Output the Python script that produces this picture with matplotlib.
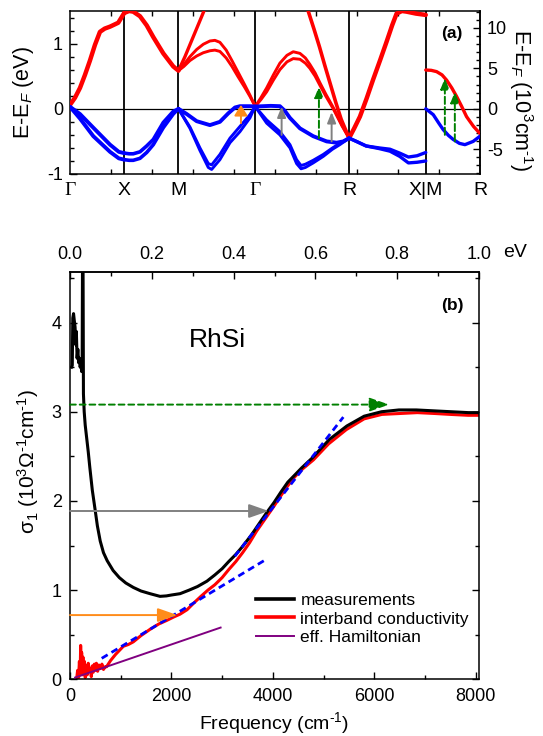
import matplotlib.pyplot as plt
import matplotlib.transforms as mtransforms
from matplotlib.lines import Line2D
from matplotlib.ticker import MultipleLocator, FixedLocator, FormatStrFormatter, NullFormatter

plt.rcParams['font.family'] = ['Liberation Sans', 'DejaVu Sans']
plt.rcParams['mathtext.fontset'] = 'custom'
plt.rcParams['mathtext.rm'] = 'Liberation Sans'
plt.rcParams['mathtext.it'] = 'Liberation Sans:italic'
plt.rcParams['mathtext.bf'] = 'Liberation Sans:bold'
plt.rcParams['axes.unicode_minus'] = False
plt.rcParams['xtick.direction'] = 'in'
plt.rcParams['ytick.direction'] = 'in'
plt.rcParams['axes.linewidth'] = 1.1

EV_TO_KCM = 8.06554   # 1 eV in 10^3 cm^-1
EV_TO_CM = 8065.54    # 1 eV in cm^-1

# ---------- (a) band structure along the k path ----------
sym_k = [0.0, 0.5, 1.0, 1.707, 2.573, 3.280, 3.780]
sym_labels = ['Γ', 'X', 'M', 'Γ', 'R', 'X|M', 'R']

# Gamma - X
gx_k_cb = [0, 0.046, 0.092, 0.138, 0.184, 0.23, 0.276, 0.32, 0.369, 0.445, 0.5]
gx_cb = [0.06, 0.17, 0.32, 0.52, 0.74, 0.98, 1.18, 1.23, 1.26, 1.32, 1.47]
gx_k_vb = [0, 0.092, 0.215, 0.369, 0.45, 0.5]
gx_vb1 = [0.03, -0.08, -0.29, -0.55, -0.66, -0.68]
gx_vb2 = [0.03, -0.15, -0.42, -0.66, -0.76, -0.78]

# X - M
xm_k = [0.5, 0.545, 0.583, 0.645, 0.707, 0.768, 0.86, 0.952, 1.0]
xm_cb = [1.47, 1.50, 1.49, 1.42, 1.28, 1.10, 0.85, 0.65, 0.585]
xm_vb1 = [-0.68, -0.69, -0.69, -0.66, -0.57, -0.47, -0.21, -0.04, 0.0]
xm_vb2 = [-0.78, -0.79, -0.79, -0.76, -0.67, -0.55, -0.29, -0.08, 0.0]

# M - Gamma
mg_k_steep = [1.0, 1.06, 1.12, 1.18, 1.235, 1.26]
mg_cb_steep = [0.585, 0.80, 1.04, 1.28, 1.50, 1.60]
mg_k = [1.0, 1.05, 1.106, 1.168, 1.229, 1.29, 1.336, 1.382, 1.44, 1.493, 1.55, 1.61, 1.659, 1.707]
mg_cb1 = [0.585, 0.68, 0.80, 0.91, 0.99, 1.04, 1.05, 1.02, 0.90, 0.74, 0.56, 0.37, 0.21, 0.04]
mg_cb2 = [0.585, 0.65, 0.74, 0.81, 0.86, 0.89, 0.90, 0.88, 0.78, 0.65, 0.49, 0.33, 0.19, 0.04]
mg_k_vb = [1.0, 1.076, 1.168, 1.29, 1.382, 1.459, 1.521, 1.567, 1.659, 1.707]
mg_vb_flat = [0.0, -0.08, -0.19, -0.25, -0.20, -0.07, 0.02, 0.04, 0.04, 0.035]
mg_k_deep = [1.0, 1.106, 1.198, 1.275, 1.306, 1.382, 1.475, 1.567, 1.659, 1.707]
mg_vb1 = [0.0, -0.28, -0.60, -0.84, -0.86, -0.70, -0.45, -0.27, -0.09, 0.035]
mg_vb2 = [0.0, -0.30, -0.64, -0.90, -0.93, -0.78, -0.52, -0.35, -0.14, 0.035]

# Gamma - R
gr_k = [1.707, 1.76, 1.813, 1.875, 1.935, 2.0, 2.058, 2.12, 2.17, 2.212, 2.26, 2.304, 2.36, 2.427, 2.507, 2.573]
gr_cb1 = [0.035, 0.17, 0.32, 0.52, 0.70, 0.82, 0.875, 0.85, 0.78, 0.68, 0.55, 0.40, 0.22, 0.02, -0.25, -0.45]
gr_cb2 = [0.035, 0.14, 0.26, 0.44, 0.60, 0.72, 0.77, 0.76, 0.70, 0.62, 0.50, 0.36, 0.19, 0.0, -0.26, -0.45]
gr_k_steep = [2.18, 2.196, 2.25, 2.30, 2.35, 2.40, 2.45, 2.50, 2.573]
gr_cb_steep = [1.6, 1.5, 1.22, 0.95, 0.66, 0.38, 0.10, -0.16, -0.45]
gr_k_vb = [1.707, 1.85, 1.935, 1.98, 2.028, 2.12, 2.242, 2.366, 2.458, 2.52, 2.573]
gr_vb_flat = [0.035, 0.045, 0.04, -0.03, -0.14, -0.30, -0.42, -0.50, -0.52, -0.50, -0.45]
gr_k_deep = [1.707, 1.813, 1.935, 2.028, 2.089, 2.13, 2.17, 2.242, 2.335, 2.42, 2.488, 2.573]
gr_vb1 = [0.035, -0.17, -0.35, -0.55, -0.78, -0.87, -0.85, -0.79, -0.70, -0.60, -0.53, -0.45]
gr_vb2 = [0.035, -0.22, -0.40, -0.60, -0.84, -0.92, -0.90, -0.83, -0.73, -0.62, -0.55, -0.45]

# R - X
rx_k = [2.573, 2.62, 2.673, 2.735, 2.795, 2.86, 2.919, 2.97, 3.011, 3.06, 3.103, 3.19, 3.28]
rx_cb = [-0.45, -0.30, -0.12, 0.16, 0.45, 0.75, 1.03, 1.28, 1.46, 1.50, 1.49, 1.46, 1.44]
rx_k_vb = [2.573, 2.64, 2.73, 2.85, 2.95, 3.04, 3.12, 3.20, 3.28]
rx_vb1 = [-0.45, -0.50, -0.57, -0.60, -0.62, -0.68, -0.74, -0.72, -0.67]
rx_vb2 = [-0.45, -0.50, -0.57, -0.61, -0.65, -0.73, -0.83, -0.82, -0.80]

# M - R
mr_k_cb = [3.28, 3.33, 3.38, 3.43, 3.472, 3.52, 3.564, 3.61, 3.656, 3.72, 3.78]
mr_cb = [0.595, 0.59, 0.57, 0.52, 0.44, 0.32, 0.19, 0.04, -0.12, -0.27, -0.38]
mr_k_vb = [3.28, 3.349, 3.40, 3.441, 3.49, 3.533, 3.59, 3.641, 3.717, 3.78]
mr_vb = [0.0, -0.09, -0.22, -0.32, -0.41, -0.47, -0.53, -0.55, -0.50, -0.42]

# optical transitions marked in (a)
trans_k = [1.576, 1.951, 2.412, 2.295, 3.456, 3.548]
trans_lo = [-0.22, -0.40, -0.50, -0.45, -0.40, -0.50]
trans_hi = [0.06, 0.035, -0.05, 0.34, 0.47, 0.26]
trans_kind = ['orange', 'gray', 'gray', 'green', 'green', 'green']

# ---------- (b) optical conductivity ----------
meas_x = [30, 45, 55, 70, 85, 100, 115, 125, 140, 155, 170, 185, 200, 215, 230, 240, 248, 256,
          265, 280, 300, 330, 360, 390, 440, 493, 540, 596, 660, 733, 850, 973, 1100, 1249,
          1400, 1578, 1775, 1900, 2000, 2171, 2350, 2514, 2700, 2856, 3000, 3130, 3270, 3404,
          3580, 3747, 3880, 4021, 4160, 4295, 4432, 4568, 4774, 5116, 5459, 5801, 6144, 6486,
          6829, 7171, 7514, 7856, 8065]
meas_y = [3.50, 3.52, 4.05, 4.10, 4.02, 3.95, 3.75, 3.90, 3.60, 3.70, 3.55, 3.60, 3.50, 3.55,
          3.45, 3.60, 4.90, 4.90, 3.20, 3.00, 2.85, 2.70, 2.55, 2.38, 2.12, 1.91, 1.72, 1.55,
          1.42, 1.33, 1.22, 1.14, 1.08, 1.03, 0.99, 0.96, 0.93, 0.935, 0.945, 0.96, 1.0, 1.04,
          1.10, 1.17, 1.24, 1.32, 1.40, 1.49, 1.62, 1.76, 1.87, 1.98, 2.10, 2.21, 2.29, 2.37,
          2.48, 2.69, 2.84, 2.95, 3.00, 3.02, 3.02, 3.01, 3.00, 2.99, 2.99]

inter_x = [130, 150, 170, 185, 200, 210, 220, 230, 240, 255, 270, 285, 300, 320, 340, 360, 380,
           400, 420, 440, 460, 480, 500, 520, 545, 570, 600, 630, 660, 690, 720, 800, 900, 1052,
           1150, 1249, 1400, 1578, 1750, 1907, 2050, 2169, 2308, 2450, 2582, 2720, 2856, 3000,
           3130, 3270, 3404, 3540, 3678, 3850, 4021, 4160, 4295, 4432, 4568, 4800, 5100, 5450,
           5800, 6150, 6500, 6850, 7200, 7500, 7850, 8065]
inter_y = [0.0, 0.10, 0.02, 0.20, 0.05, 0.38, 0.15, 0.30, 0.05, 0.25, 0.08, 0.20, 0.02, 0.15,
           0.05, 0.18, 0.10, 0.12, 0.03, 0.15, 0.08, 0.17, 0.10, 0.18, 0.09, 0.16, 0.12, 0.17,
           0.11, 0.14, 0.14, 0.21, 0.28, 0.37, 0.39, 0.42, 0.49, 0.56, 0.62, 0.66, 0.70, 0.73,
           0.78, 0.86, 0.93, 1.00, 1.06, 1.14, 1.23, 1.32, 1.42, 1.53, 1.66, 1.80, 1.94, 2.06,
           2.17, 2.27, 2.35, 2.46, 2.64, 2.80, 2.92, 2.97, 2.98, 2.99, 2.98, 2.97, 2.96, 2.96]

ham_x = [100, 2970]
ham_y = [0.02, 0.58]

fit_lo_x = [625, 3884]
fit_lo_y = [0.235, 1.35]
fit_hi_x = [3250, 5390]
fit_hi_y = [1.38, 2.94]

level_y = [3.08, 1.887, 0.72]
level_end = [6295, 3918, 2120]
level_kind = ['green', 'gray', 'orange']

ev_ticks = [0.0, 0.2, 0.4, 0.6, 0.8, 1.0]
kcm_ticks = [-5, 0, 5, 10]

colors = {'orange': '#FF8C1A', 'gray': '#808080', 'green': '#008000'}

# ---------- figure ----------
W, H = 543, 736
fig = plt.figure(figsize=(W / 100, H / 100), dpi=100)
ax_a = fig.add_axes([70 / W, 1 - 174 / H, 410 / W, 163 / H])
ax_b = fig.add_axes([70 / W, 1 - 679.3 / H, 409 / W, 407.6 / H])

# bands
red_lines = [(gx_k_cb, gx_cb, 3.2), (xm_k, xm_cb, 3.2), (mg_k_steep, mg_cb_steep, 2.4),
             (mg_k, mg_cb1, 2.1), (mg_k, mg_cb2, 2.1), (gr_k, gr_cb1, 2.1), (gr_k, gr_cb2, 2.1),
             (gr_k_steep, gr_cb_steep, 2.6), (rx_k, rx_cb, 3.2), (mr_k_cb, mr_cb, 2.4)]
blue_lines = [(gx_k_vb, gx_vb1, 2.8), (gx_k_vb, gx_vb2, 2.8), (xm_k, xm_vb1, 2.6), (xm_k, xm_vb2, 2.6),
              (mg_k_vb, mg_vb_flat, 2.8), (mg_k_deep, mg_vb1, 2.1), (mg_k_deep, mg_vb2, 2.1),
              (gr_k_vb, gr_vb_flat, 2.8), (gr_k_deep, gr_vb1, 2.1), (gr_k_deep, gr_vb2, 2.1),
              (rx_k_vb, rx_vb1, 2.4), (rx_k_vb, rx_vb2, 2.4), (mr_k_vb, mr_vb, 2.4)]
for k, e, lw in red_lines:
    ax_a.plot(k, e, color='red', lw=lw, solid_capstyle='round', solid_joinstyle='round', zorder=3)
for k, e, lw in blue_lines:
    ax_a.plot(k, e, color='blue', lw=lw, solid_capstyle='round', solid_joinstyle='round', zorder=3)

for k in sym_k[1:-1]:
    ax_a.axvline(k, color='black', lw=1.3, zorder=2)
ax_a.axhline(0, color='black', lw=0.9, zorder=2)

for k, lo, hi, kind in zip(trans_k, trans_lo, trans_hi, trans_kind):
    ls = '--' if kind == 'green' else '-'
    hw = 0.5 if kind == 'orange' else 0.32
    ax_a.annotate('', xy=(k, hi), xytext=(k, lo),
                  arrowprops=dict(arrowstyle=f'-|>,head_length=0.8,head_width={hw}',
                                  color=colors[kind], lw=1.4, linestyle=ls,
                                  shrinkA=0, shrinkB=0, mutation_scale=8), zorder=5)

ax_a.set_xlim(sym_k[0], sym_k[-1])
ax_a.set_ylim(-1, 1.5)
ax_a.set_xticks([sym_k[-1] * i / 10 for i in range(1, 10)])
ax_a.xaxis.set_major_formatter(NullFormatter())
ax_a.tick_params(axis='x', top=True, bottom=True, length=3.5, width=1)
ax_a.yaxis.set_major_locator(MultipleLocator(1))
ax_a.yaxis.set_minor_locator(MultipleLocator(0.2))
ax_a.tick_params(axis='y', which='major', length=5, width=1, labelsize=13, pad=5)
ax_a.tick_params(axis='y', which='minor', length=3, width=1)

sec_a = ax_a.secondary_yaxis('right', functions=(lambda e: e * EV_TO_KCM, lambda w: w / EV_TO_KCM))
sec_a.yaxis.set_major_locator(FixedLocator(kcm_ticks))
sec_a.yaxis.set_minor_locator(FixedLocator(list(range(-8, 13))))
sec_a.tick_params(which='major', direction='in', length=5, width=1, labelsize=13, pad=5)
sec_a.tick_params(which='minor', direction='in', length=3, width=1)

lab_tr = mtransforms.blended_transform_factory(ax_a.transData, ax_a.transAxes)
for k, lab in zip(sym_k, sym_labels):
    fam = ['Liberation Serif'] if lab == 'Γ' else ['Liberation Sans']
    ax_a.text(k, -0.1, lab, transform=lab_tr, ha='center', va='center', fontsize=14, family=fam)

ax_a.text(0.931, 0.863, '(a)', transform=ax_a.transAxes, ha='center', va='center',
          fontsize=12.5, fontweight='bold')
fig.text(24 / W, 1 - 92 / H, 'E-E$_F$ (eV)', rotation=90, ha='center', va='center', fontsize=15.5)
fig.text(521 / W, 1 - 100 / H, 'E-E$_F$ (10$^3$cm$^{\\text{-}1}$)', rotation=270, ha='center',
         va='center', fontsize=15.5)

# conductivity
ax_b.plot(inter_x, inter_y, color='red', lw=2.2, zorder=2)
ax_b.plot(meas_x, meas_y, color='black', lw=2.2, zorder=3)
ax_b.plot(ham_x, ham_y, color='#800080', lw=1.4, zorder=3)
ax_b.plot(fit_lo_x, fit_lo_y, color='blue', lw=2.0, ls=(0, (2.5, 1.6)), zorder=4)
ax_b.plot(fit_hi_x, fit_hi_y, color='blue', lw=2.0, ls=(0, (2.5, 1.6)), zorder=4)

for y, x_end, kind in zip(level_y, level_end, level_kind):
    ls = (0, (3, 2)) if kind == 'green' else '-'
    ax_b.annotate('', xy=(x_end, y), xytext=(0, y),
                  arrowprops=dict(arrowstyle='-|>,head_length=1.0,head_width=0.35',
                                  color=colors[kind], lw=1.4, linestyle=ls,
                                  shrinkA=0, shrinkB=0, mutation_scale=12), zorder=5)

ax_b.set_xlim(0, EV_TO_CM)
ax_b.set_ylim(0, 4.57)
ax_b.xaxis.set_major_locator(MultipleLocator(2000))
ax_b.xaxis.set_minor_locator(MultipleLocator(1000))
ax_b.yaxis.set_major_locator(MultipleLocator(1))
ax_b.yaxis.set_minor_locator(MultipleLocator(0.5))
ax_b.tick_params(which='major', right=True, length=5, width=1, labelsize=13, pad=6)
ax_b.tick_params(which='minor', right=True, length=3, width=1)

sec_b = ax_b.secondary_xaxis('top', functions=(lambda w: w / EV_TO_CM, lambda e: e * EV_TO_CM))
sec_b.xaxis.set_major_locator(FixedLocator(ev_ticks))
sec_b.xaxis.set_minor_locator(FixedLocator([i / 10 for i in range(11)]))
sec_b.xaxis.set_major_formatter(FormatStrFormatter('%.1f'))
sec_b.tick_params(which='major', direction='in', length=5, width=1, labelsize=13, pad=6)
sec_b.tick_params(which='minor', direction='in', length=3, width=1)
fig.text(515 / W, 1 - 252 / H, 'eV', ha='center', va='center', fontsize=14)

ax_b.set_xlabel('Frequency (cm$^{\\text{-}1}$)', fontsize=14, labelpad=4)
fig.text(28 / W, 1 - 461 / H, 'σ$_1$ (10$^3$Ω$^{\\text{-}1}$cm$^{\\text{-}1}$)', rotation=90,
         ha='center', va='center', fontsize=15)
ax_b.text(2909, 3.80, 'RhSi', ha='center', va='center', fontsize=19)
ax_b.text(0.935, 0.918, '(b)', transform=ax_b.transAxes, ha='center', va='center',
          fontsize=12.5, fontweight='bold')

handles = [Line2D([], [], color='black', lw=2.6), Line2D([], [], color='red', lw=2.6),
           Line2D([], [], color='#800080', lw=1.4)]
ax_b.legend(handles, ['measurements', 'interband conductivity', 'eff. Hamiltonian'],
            loc='center left', bbox_to_anchor=(0.455, 0.148), frameon=False, fontsize=12.5,
            borderpad=0, borderaxespad=0, handlelength=2.2, handletextpad=0.35, labelspacing=0.2)

fig.savefig('out.png', dpi=100)
